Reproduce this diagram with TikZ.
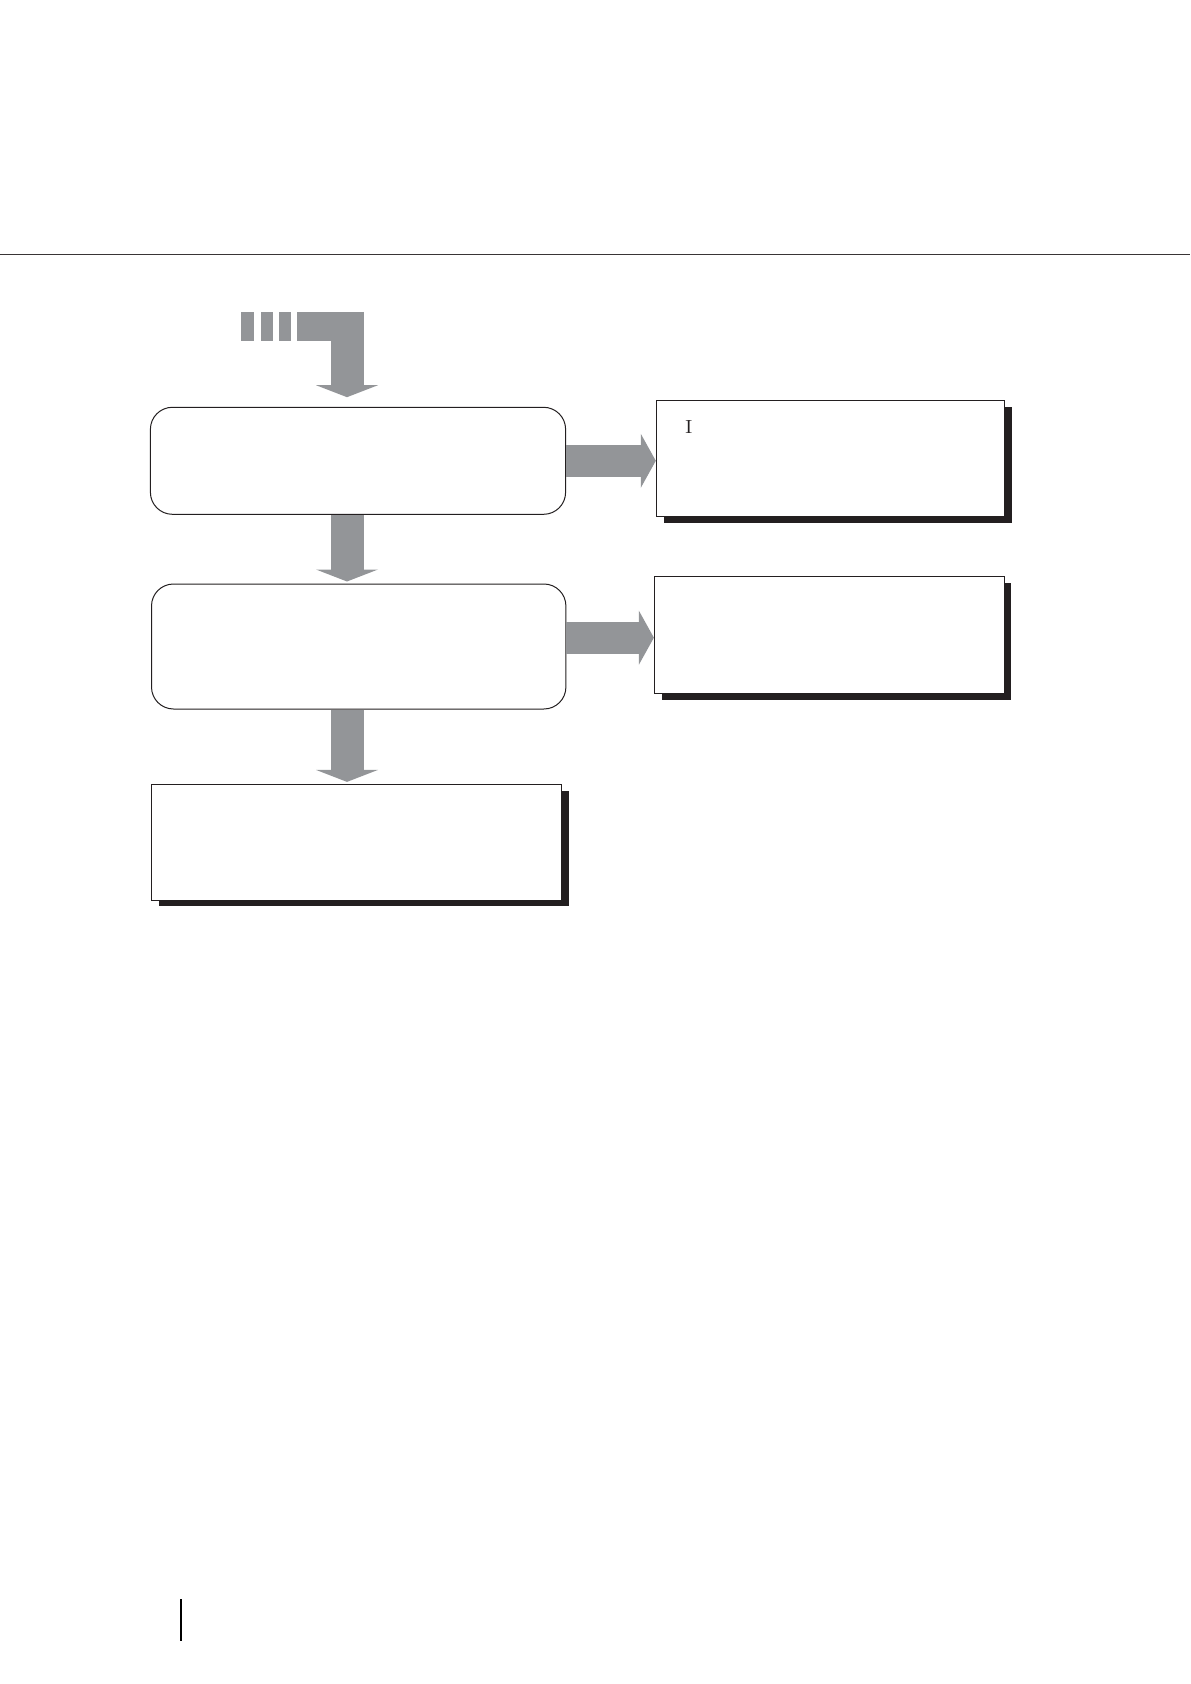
\documentclass[tikz,border=0pt]{standalone}
\usetikzlibrary{arrows.meta,calc,shadows}
\definecolor{flowgray}{RGB}{147,149,152}
\definecolor{inkblack}{RGB}{35,31,32}

\tikzset{
  stage box/.style={draw=inkblack, line width=0.5pt, fill=white,
                    rounded corners=11pt, inner sep=0},
  note box/.style={draw=inkblack, line width=0.5pt, fill=white, inner sep=0,
                   drop shadow={shadow xshift=3.6pt, shadow yshift=-3.2pt,
                                fill=inkblack, opacity=1}},
  down arrow/.style={-{Triangle[length=6pt,width=31pt,line width=0pt]},
                     flowgray, line width=16.5pt},
  side arrow/.style={-{Triangle[length=7.5pt,width=27pt,line width=0pt]},
                     flowgray, line width=16pt},
}

\begin{document}
\begin{tikzpicture}[x=0.5pt, y=-0.5pt]
    \useasboundingbox (0,0) rectangle (1190,1684);

    % Page rule and margin mark
    \draw[inkblack!90, line width=0.8pt] (0,254.5) -- (1190,254.5);
    \draw[black, line width=1pt] (181,1599) -- (181,1641);

    % Flow boxes
    \node[stage box, minimum width=207.6pt, minimum height=53.5pt] (stage1) at (358,460.8) {};
    \node[stage box, minimum width=207.2pt, minimum height=62.5pt] (stage2) at (358.7,646.5) {};
    \node[note box, minimum width=205pt, minimum height=57.8pt] (result) at (356.5,842.2) {};

    % Side notes
    \node[note box, minimum width=174.2pt, minimum height=58pt] (note1) at (830.5,458.3) {};
    \node[note box, minimum width=174.8pt, minimum height=58.6pt] (note2) at (829.2,634.7) {};
    \node[font=\fontsize{9.5}{11}\selectfont, inner sep=0, text=inkblack]
        (note1 mark) at ($(note1.north west)+(33,27)$) {I};

    % Incoming arrow from the previous step
    \coordinate (spine) at (347,0);
    \coordinate (feed) at (347,312);
    \foreach \xa/\xb in {240.6/253.7, 260.9/273.2, 278.5/291.2, 296.9/331} {
      \fill[flowgray] (\xa,312) rectangle (\xb,341);
    }
    \draw[down arrow, shorten >=4.8pt] (feed) -- (stage1.north -| spine);

    % Main flow
    \draw[down arrow, shorten >=1pt] (stage1.south -| spine) -- (stage2.north -| spine);
    \draw[down arrow, shorten >=1pt] (stage2.south -| spine) -- (result.north -| spine);

    % Branches to the notes
    \draw[side arrow] (stage1.east) -- (stage1.east -| note1.west);
    \draw[side arrow] ($(stage2.east |- note2.west)+(0,3)$) -- ($(note2.west)+(0,3)$);
\end{tikzpicture}
\end{document}
